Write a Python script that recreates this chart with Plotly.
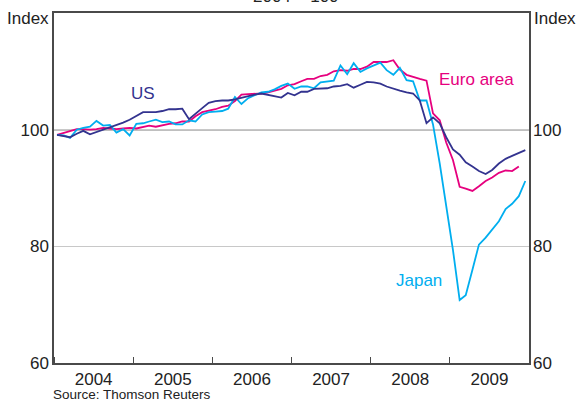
import plotly.graph_objects as go

# Monthly observations, Jan 2004 – Dec 2009 (index, 2004 = 100)
years = [2004, 2005, 2006, 2007, 2008, 2009]
months = [f"{y}-{m:02d}-15" for y in years for m in range(1, 13)]

us = [99.1, 98.9, 98.7, 99.3, 99.8, 99.2, 99.6, 100.0, 100.3, 100.7, 101.2, 101.7,
      102.3, 103.0, 103.0, 103.0, 103.2, 103.5, 103.5, 103.6, 101.8, 102.8, 103.7, 104.6,
      104.9, 105.0, 105.0, 105.2, 105.5, 105.8, 106.0, 106.2, 106.0, 105.8, 105.5, 106.3,
      105.9, 106.5, 106.5, 107.0, 107.0, 107.1, 107.4, 107.5, 107.8, 107.2, 107.7, 108.2,
      108.1, 107.9, 107.4, 107.0, 106.7, 106.4, 106.2, 105.0, 101.1, 102.1, 101.1, 98.7,
      96.6, 95.7, 94.4, 93.7, 92.9, 92.4, 93.1, 94.2, 95.0, 95.5, 96.0, 96.5]

euro = [99.1, 99.4, 99.8, 100.1, 100.1, 100.0, 100.1, 100.3, 100.2, 100.1, 100.2, 100.3,
        100.2, 100.5, 100.7, 100.5, 100.8, 101.0, 101.1, 101.4, 101.4, 102.3, 103.0, 103.2,
        103.5, 103.9, 104.1, 104.9, 106.0, 106.1, 106.1, 106.2, 106.4, 106.7, 107.0, 107.6,
        107.8, 108.3, 108.7, 108.7, 109.2, 109.4, 110.0, 110.2, 110.1, 110.4, 110.4, 110.8,
        111.6, 111.6, 111.6, 111.9, 110.3, 109.4, 109.0, 108.7, 108.4, 102.8, 101.6, 97.8,
        94.8, 90.2, 89.9, 89.5, 90.3, 91.2, 91.8, 92.6, 93.0, 92.9, 93.7, None]

japan = [99.1, 99.0, 98.6, 100.0, 100.3, 100.5, 101.5, 100.7, 100.8, 99.5, 100.1, 99.0,
         101.0, 101.1, 101.4, 101.7, 101.3, 101.4, 100.9, 100.9, 101.6, 101.4, 102.6, 103.0,
         103.1, 103.2, 103.6, 105.6, 104.4, 105.4, 105.9, 106.4, 106.5, 106.9, 107.5, 107.9,
         107.0, 107.4, 107.4, 107.1, 108.1, 108.3, 108.4, 111.0, 109.5, 111.4, 109.9, 110.5,
         111.0, 111.5, 110.2, 109.4, 110.6, 108.5, 108.3, 105.0, 105.0, 100.9, 94.2, 86.9,
         79.4, 70.8, 71.6, 76.0, 80.3, 81.5, 82.8, 84.3, 86.4, 87.3, 88.6, 91.2]

y_ticks = [60, 80, 100]
x_range = ["2004-01-01", "2010-01-01"]

C_US = "#33338f"
C_EU = "#e6007e"
C_JP = "#00aeef"
FONT = "Liberation Sans, Arial, sans-serif"
AX = "#4a4a4a"
TXT = "#222222"
FS = 17

fig = go.Figure()
fig.add_trace(go.Scatter(x=months, y=euro, mode="lines", line=dict(color=C_EU, width=1.8),
                         showlegend=False, connectgaps=False))
fig.add_trace(go.Scatter(x=months, y=japan, mode="lines", line=dict(color=C_JP, width=1.8),
                         showlegend=False))
fig.add_trace(go.Scatter(x=months, y=us, mode="lines", line=dict(color=C_US, width=1.8),
                         showlegend=False))
# invisible trace to activate right axis
fig.add_trace(go.Scatter(x=[months[0]], y=[None], yaxis="y2", showlegend=False,
                         hoverinfo="skip"))

fig.add_shape(type="line", xref="paper", x0=0, x1=1, yref="y", y0=100, y1=100,
              line=dict(color="#000000", width=1.2), layer="between")

fig.update_layout(
    width=576, height=403,
    margin=dict(l=54, r=47, t=13, b=40),
    paper_bgcolor="white", plot_bgcolor="white",
    font=dict(family=FONT, size=FS, color=TXT),
    xaxis=dict(
        type="date", range=x_range, tick0="2004-01-01", dtick="M12",
        ticklabelmode="period", tickformat="%Y",
        ticks="inside", ticklen=6, tickcolor=AX, tickwidth=1,
        showgrid=False, showline=True, linecolor=AX, linewidth=1.5, mirror=True,
        tickfont=dict(size=FS, color=TXT), zeroline=False,
    ),
    yaxis=dict(
        range=[60, 120], tickvals=y_ticks, ticks="", showgrid=True,
        gridcolor="#c8c8c8", gridwidth=1, showline=True, linecolor=AX, linewidth=1.5,
        mirror=True, zeroline=False, tickfont=dict(size=FS, color=TXT),
    ),
    yaxis2=dict(
        range=[60, 120], tickvals=y_ticks, overlaying="y", side="right", ticks="",
        showgrid=False, zeroline=False, showline=False, ticklabelstandoff=3,
        tickfont=dict(size=FS, color=TXT),
    ),
    annotations=[
        dict(text="2004 = 100", xref="paper", yref="paper", x=0.51, y=1.013,
             xanchor="center", yanchor="bottom", showarrow=False, font=dict(size=FS)),
        dict(text="Index", xref="paper", yref="paper", x=0, y=0.983, xshift=-3,
             xanchor="right", yanchor="middle", showarrow=False, font=dict(size=FS)),
        dict(text="Index", xref="paper", yref="paper", x=1, y=0.983, xshift=3,
             xanchor="left", yanchor="middle", showarrow=False, font=dict(size=FS)),
        dict(text="US", xref="paper", yref="paper", x=0.187, y=0.771,
             xanchor="center", yanchor="middle", showarrow=False,
             font=dict(size=FS, color=C_US)),
        dict(text="Euro area", xref="paper", yref="paper", x=0.8905, y=0.811,
             xanchor="center", yanchor="middle", showarrow=False,
             font=dict(size=FS, color=C_EU)),
        dict(text="Japan", xref="paper", yref="paper", x=0.768, y=0.237,
             xanchor="center", yanchor="middle", showarrow=False,
             font=dict(size=FS, color=C_JP)),
        dict(text="Source: Thomson Reuters", xref="paper", yref="paper", x=-0.004,
             y=-0.1143, xanchor="left", yanchor="bottom", showarrow=False, borderpad=0,
             font=dict(size=13.5, color=TXT)),
    ],
)

fig.write_html("out.html", config={"displayModeBar": False},
               post_script="document.body.style.margin='0';")
